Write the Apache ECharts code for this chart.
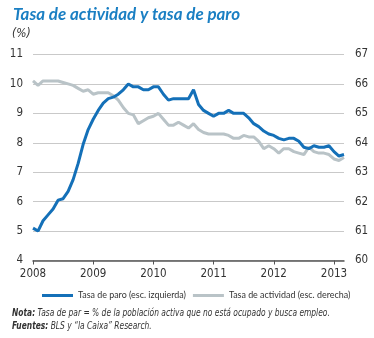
<!DOCTYPE html>
<html>
<head>
<meta charset="utf-8">
<script src="https://cdn.jsdelivr.net/npm/echarts@6/dist/echarts.min.js"></script>
<style>
  html, body { margin: 0; padding: 0; background: #fff; }
  #chart { width: 374px; height: 338px; }
</style>
</head>
<body>
<div id="chart"></div>
<script>
// Monthly observations, January 2008 to March 2013
const startYear = 2008;
const months = [];
for (let i = 0; i < 63; i++) {
  const y = startYear + Math.floor(i / 12);
  const m = (i % 12) + 1;
  months.push(y + '-' + (m < 10 ? '0' + m : m));
}

// Unemployment rate (%), left scale
const tasaParo = [
  5.1, 5.0, 5.35, 5.55, 5.75, 6.05, 6.1, 6.35, 6.75, 7.3,
  7.95, 8.45, 8.8, 9.1, 9.35, 9.5, 9.55, 9.65, 9.8, 10.0,
  9.9, 9.9, 9.8, 9.8, 9.9, 9.9, 9.65, 9.45, 9.5, 9.5,
  9.5, 9.5, 9.8, 9.3, 9.1, 9.0, 8.9, 9.0, 9.0, 9.1,
  9.0, 9.0, 9.0, 8.85, 8.65, 8.55, 8.4, 8.3, 8.25, 8.15,
  8.1, 8.15, 8.15, 8.05, 7.85, 7.8, 7.9, 7.85, 7.85, 7.9,
  7.7, 7.55, 7.6
];

// Participation rate (%), right scale
const tasaActividad = [
  66.1, 65.95, 66.1, 66.1, 66.1, 66.1, 66.05, 66.0, 65.95, 65.85,
  65.75, 65.8, 65.65, 65.7, 65.7, 65.7, 65.6, 65.45, 65.2, 65.0,
  64.95, 64.65, 64.75, 64.85, 64.9, 65.0, 64.8, 64.6, 64.6, 64.7,
  64.6, 64.5, 64.65, 64.45, 64.35, 64.3, 64.3, 64.3, 64.3, 64.25,
  64.15, 64.15, 64.25, 64.2, 64.2, 64.05, 63.8, 63.9, 63.8, 63.65,
  63.8, 63.8, 63.7, 63.65, 63.6, 63.85, 63.7, 63.65, 63.65, 63.6,
  63.45, 63.4, 63.5
];

const leftTicks = { min: 4, max: 11, interval: 1 };
const rightTicks = { min: 60, max: 67, interval: 1 };

const seriesNames = ['Tasa de paro (esc. izquierda)', 'Tasa de actividad (esc. derecha)'];
const titleText = 'Tasa de actividad y tasa de paro';
const noteText = 'Tasa de par = % de la población activa que no está ocupado y busca empleo.';
const sourceText = 'BLS y “la Caixa” Research.';

const BLUE = '#1470b8';
const GRAY = '#b9c3c7';
const TEXT = '#333333';

// Text measuring helpers
const measureCtx = document.createElement('canvas').getContext('2d');
function textWidth(str, font) {
  measureCtx.font = font;
  return measureCtx.measureText(str).width;
}
function hasFont(name) {
  const probe = 'Tasa de actividad (esc. derecha) 0123';
  return textWidth(probe, '20px "' + name + '", monospace') !== textWidth(probe, '20px monospace');
}
const candidates = ['Liberation Sans Narrow', 'DejaVu Sans Condensed', 'Lato'];
let SMALL = 'Lato';
for (const c of candidates) { if (hasFont(c)) { SMALL = c; break; } }
const SMALL_FAMILY = '"' + SMALL + '", sans-serif';

// Legend: use whichever family allows the larger size for a ~108px first entry
let LEGEND_FAMILY = SMALL_FAMILY;
let legendSize = 0;
for (const fam of [SMALL_FAMILY, 'Lato, sans-serif']) {
  const s = Math.min(10.5, 10 * 108 / textWidth(seriesNames[0], '10px ' + fam));
  if (s > legendSize) { legendSize = s; LEGEND_FAMILY = fam; }
}

// Footnote squeezed horizontally to span about 315px
const noteFull = 'Nota: ' + noteText;
const noteScale = Math.min(1, 315 / textWidth(noteFull, 'italic 10.5px ' + SMALL_FAMILY));

// Title fitted to about 227px
const TITLE_FONT = 'italic bold 17px Lato, "Open Sans", sans-serif';
const titleScale = 227 / textWidth(titleText, TITLE_FONT);

const chart = echarts.init(document.getElementById('chart'), null, { renderer: 'canvas' });

const isYearStart = (idx) => idx % 12 === 0;

chart.setOption({
  animation: false,
  backgroundColor: '#ffffff',
  grid: { left: 33, right: 30, top: 54.5, bottom: 77.5 },
  legend: {
    top: 286,
    left: 37,
    width: 337,
    itemWidth: 31,
    itemHeight: 3,
    itemGap: 7,
    icon: 'rect',
    textStyle: { fontFamily: LEGEND_FAMILY, fontSize: legendSize, color: TEXT },
    data: seriesNames
  },
  xAxis: {
    type: 'category',
    data: months,
    boundaryGap: false,
    axisLine: { lineStyle: { color: '#555555', width: 1.5 } },
    axisTick: { interval: (idx) => isYearStart(idx), length: 4, lineStyle: { color: '#555555' } },
    axisLabel: {
      interval: (idx) => isYearStart(idx),
      formatter: (v) => v.slice(0, 4),
      fontFamily: SMALL_FAMILY, fontSize: 11.5, color: TEXT, margin: 8
    },
    splitLine: { show: false }
  },
  yAxis: [
    {
      type: 'value',
      min: leftTicks.min, max: leftTicks.max, interval: leftTicks.interval,
      axisLine: { show: false }, axisTick: { show: false },
      axisLabel: { fontFamily: SMALL_FAMILY, fontSize: 11.5, color: TEXT, margin: 10 },
      splitLine: { lineStyle: { color: '#c9c9c9', width: 1 } }
    },
    {
      type: 'value', position: 'right',
      min: rightTicks.min, max: rightTicks.max, interval: rightTicks.interval,
      axisLine: { show: false }, axisTick: { show: false },
      axisLabel: { fontFamily: SMALL_FAMILY, fontSize: 11.5, color: TEXT, margin: 11 },
      splitLine: { show: false }
    }
  ],
  series: [
    {
      name: seriesNames[1],
      type: 'line', yAxisIndex: 1, data: tasaActividad,
      symbol: 'none', z: 2,
      lineStyle: { color: GRAY, width: 3 },
      itemStyle: { color: GRAY }
    },
    {
      name: seriesNames[0],
      type: 'line', yAxisIndex: 0, data: tasaParo,
      symbol: 'none', z: 3,
      lineStyle: { color: BLUE, width: 3 },
      itemStyle: { color: BLUE }
    }
  ],
  graphic: [
    {
      type: 'text', x: 13, y: 6, scaleX: titleScale,
      style: { text: titleText, font: TITLE_FONT, fill: '#1a7fc3' }
    },
    {
      type: 'text', left: 12, top: 28,
      style: { text: '(%)', font: 'italic 12px ' + SMALL_FAMILY, fill: TEXT }
    },
    {
      type: 'text', x: 12, y: 308, scaleX: noteScale,
      style: {
        text: '{b|Nota:} ' + noteText,
        font: 'italic 10.5px ' + SMALL_FAMILY, fill: TEXT,
        rich: { b: { fontWeight: 'bold', fontStyle: 'italic', fontFamily: SMALL_FAMILY, fontSize: 10.5, fill: TEXT } }
      }
    },
    {
      type: 'text', x: 12, y: 321, scaleX: noteScale,
      style: {
        text: '{b|Fuentes:} ' + sourceText,
        font: 'italic 10.5px ' + SMALL_FAMILY, fill: TEXT,
        rich: { b: { fontWeight: 'bold', fontStyle: 'italic', fontFamily: SMALL_FAMILY, fontSize: 10.5, fill: TEXT } }
      }
    }
  ]
});
</script>
</body>
</html>
